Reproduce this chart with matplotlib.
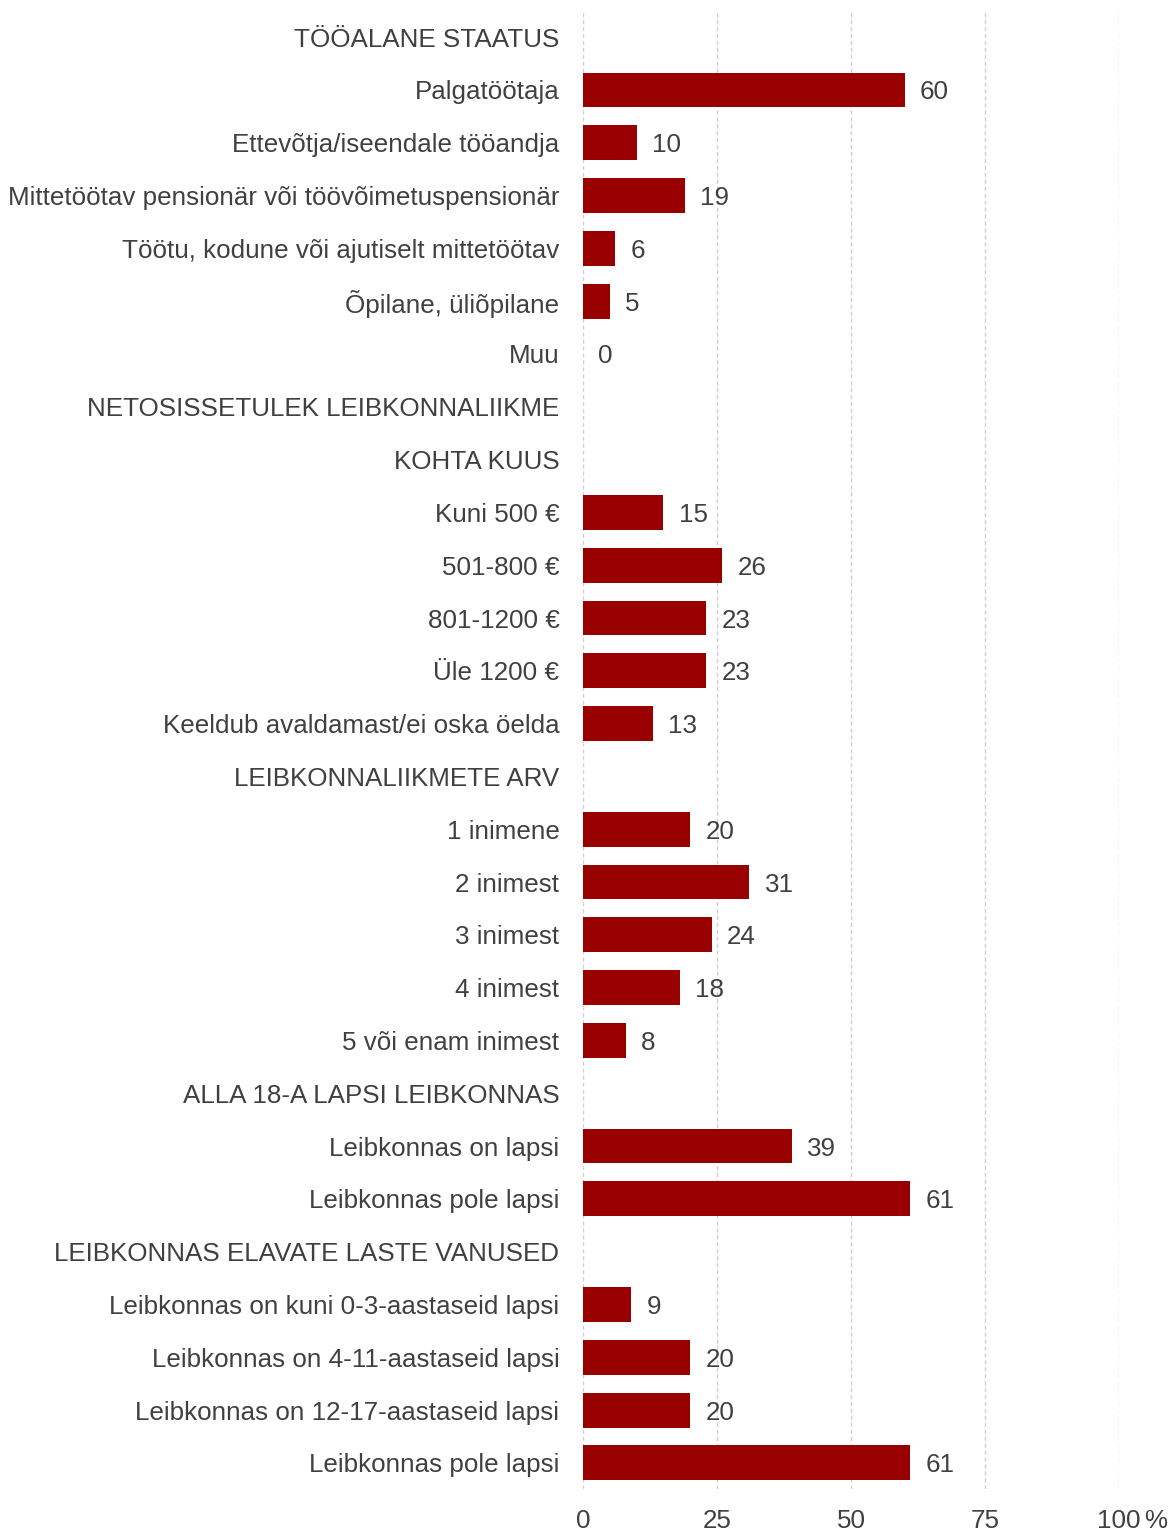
import numpy as np
import matplotlib.pyplot as plt

plt.rcParams['font.family'] = ['Liberation Sans', 'DejaVu Sans']

# None marks a section header row (no bar)
labels = [
    'TÖÖALANE STAATUS',
    'Palgatöötaja',
    'Ettevõtja/iseendale tööandja',
    'Mittetöötav pensionär või töövõimetuspensionär',
    'Töötu, kodune või ajutiselt mittetöötav',
    'Õpilane, üliõpilane',
    'Muu',
    'NETOSISSETULEK LEIBKONNALIIKME',
    'KOHTA KUUS',
    'Kuni 500 €',
    '501-800 €',
    '801-1200 €',
    'Üle 1200 €',
    'Keeldub avaldamast/ei oska öelda',
    'LEIBKONNALIIKMETE ARV',
    '1 inimene',
    '2 inimest',
    '3 inimest',
    '4 inimest',
    '5 või enam inimest',
    'ALLA 18-A LAPSI LEIBKONNAS',
    'Leibkonnas on lapsi',
    'Leibkonnas pole lapsi',
    'LEIBKONNAS ELAVATE LASTE VANUSED',
    'Leibkonnas on kuni 0-3-aastaseid lapsi',
    'Leibkonnas on 4-11-aastaseid lapsi',
    'Leibkonnas on 12-17-aastaseid lapsi',
    'Leibkonnas pole lapsi',
]
values = [None, 60, 10, 19, 6, 5, 0,
          None, None, 15, 26, 23, 23, 13,
          None, 20, 31, 24, 18, 8,
          None, 39, 61,
          None, 9, 20, 20, 61]

xticks = [0, 25, 50, 75, 100]

bar_color = '#990000'
text_color = '#404040'
fs = 18.7

fig = plt.figure(figsize=(11.72, 15.33), dpi=100)
ax = fig.add_axes([0.4975, 0.0285, 0.4573, 0.9645])

y = np.arange(len(labels))
for yi, v in zip(y, values):
    if v is None:
        continue
    ax.barh(yi, v, height=0.66, color=bar_color, zorder=3)
    ax.annotate(str(v), (v, yi), xytext=(11, 0), textcoords='offset points',
                va='center_baseline', ha='left', fontsize=fs, color=text_color)

ax.set_ylim(len(labels) - 0.5, -0.5)
ax.set_xlim(0, 100)
ax.set_yticks(y)
ax.set_yticklabels(labels, fontsize=fs, color=text_color)
ax.set_xticks(xticks)
ax.set_xticklabels([str(t) for t in xticks], fontsize=fs, color=text_color)
ax.tick_params(axis='both', length=0)
ax.tick_params(axis='y', pad=17)
ax.tick_params(axis='x', pad=14)
for s in ax.spines.values():
    s.set_visible(False)
ax.grid(axis='x', color='#d0d0d0', linestyle=(0, (3, 2)), linewidth=1, zorder=0)

ax.annotate('%', (100, 0), xycoords=('data', 'axes fraction'),
            xytext=(18, -14), textcoords='offset points',
            ha='left', va='top', fontsize=fs, color=text_color)

fig.savefig('out.png', dpi=100)
